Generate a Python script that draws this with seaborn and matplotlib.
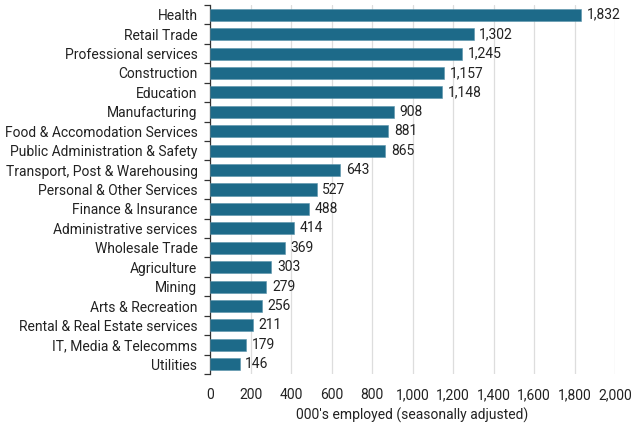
import matplotlib
matplotlib.use("Agg")
import matplotlib.pyplot as plt
import seaborn as sns
import pandas as pd
import numpy as np
from matplotlib.ticker import FuncFormatter, FixedLocator

categories = ["Health", "Retail Trade", "Professional services", "Construction", "Education",
              "Manufacturing", "Food & Accomodation Services", "Public Administration & Safety",
              "Transport, Post & Warehousing", "Personal & Other Services", "Finance & Insurance",
              "Administrative services", "Wholesale Trade", "Agriculture", "Mining",
              "Arts & Recreation", "Rental & Real Estate services", "IT, Media & Telecomms", "Utilities"]
values = [1832, 1302, 1245, 1157, 1148, 908, 881, 865, 643, 527, 488, 414, 369, 303, 279, 256, 211, 179, 146]
xlabel = "000's employed (seasonally adjusted)"

sns.set_theme(style="white")
plt.rcParams['font.family'] = ['Roboto', 'DejaVu Sans']
FS = 10

df = pd.DataFrame({"cat": categories, "val": values})

fig = plt.figure(figsize=(6.37, 4.23), dpi=100)
ax = fig.add_axes([210/637, 1 - 374/423, (615-210)/637, (374-5)/423])
sns.barplot(data=df, y="cat", x="val", orient="h", color="#1d6a89", saturation=1,
            width=0.62, edgecolor="#5a93aa", linewidth=0.4, ax=ax, zorder=3)

ax.set_xlim(0, 2000)
ax.set_xticks(np.arange(0, 2001, 200))
ax.xaxis.set_major_formatter(FuncFormatter(lambda v, p: f"{int(v):,}"))
ax.grid(axis="x", color="#dddddd", linewidth=0.9, zorder=0)
ax.set_axisbelow(True)
ax.set_ylim(len(categories) - 0.5, -0.5)

for i, v in enumerate(values):
    ax.text(v + 28, i, f"{v:,}", va="center", ha="left", fontsize=FS, color="#222222")

for s in ["top", "right", "bottom"]:
    ax.spines[s].set_visible(False)
ax.spines["left"].set_color("#333333")
ax.spines["left"].set_linewidth(0.9)

ax.tick_params(axis="y", which="major", length=0, pad=9, labelsize=FS, labelcolor="#222222")
ax.yaxis.set_minor_locator(FixedLocator(np.arange(-0.5, len(categories), 1)))
ax.tick_params(axis="y", which="minor", length=4, width=0.9, color="#333333", left=True)
ax.tick_params(axis="x", length=0, pad=10, labelsize=FS, labelcolor="#222222")
ax.set_ylabel("")
ax.set_xlabel(xlabel, fontsize=FS, color="#222222", labelpad=4)

fig.savefig("out.png", dpi=100)
